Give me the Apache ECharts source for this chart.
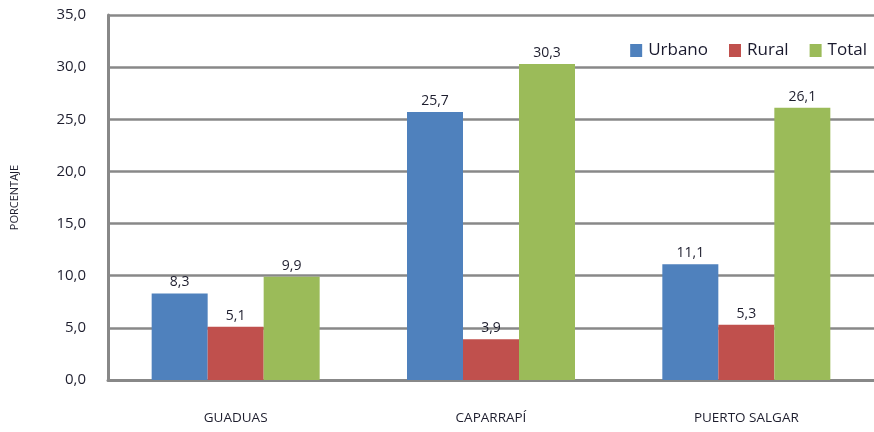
<!DOCTYPE html>
<html>
<head>
<meta charset="utf-8">
<script src="https://cdn.jsdelivr.net/npm/echarts@6/dist/echarts.min.js"></script>
<style>
  html, body { margin: 0; padding: 0; background: #fff; }
  #chart { width: 874px; height: 432px; }
</style>
</head>
<body>
<div id="chart"></div>
<script>
const categories = ['GUADUAS', 'CAPARRAPÍ', 'PUERTO SALGAR']
const urbano = [8.3, 25.7, 11.1]
const rural = [5.1, 3.9, 5.3]
const total = [9.9, 30.3, 26.1]

const fmt = v => v.toFixed(1).replace('.', ',')
const font = "'Open Sans', 'DejaVu Sans', sans-serif"

const makeSeries = (name, data, color) => ({
  name,
  type: 'bar',
  data,
  barWidth: 56,
  barGap: '0%',
  itemStyle: { color },
  label: {
    show: true,
    position: 'top',
    distance: 4,
    color: '#1e1e2e',
    fontSize: 14,
    fontFamily: font,
    formatter: p => fmt(p.value)
  }
})

const chart = echarts.init(document.getElementById('chart'))
chart.setOption({
  animation: false,
  grid: { left: 108, right: 0, top: 15, bottom: 52 },
  legend: {
    data: ['Urbano', 'Rural', 'Total'],
    right: 2,
    top: 37,
    itemWidth: 12,
    itemHeight: 13,
    itemGap: 21,
    icon: 'rect',
    textStyle: { fontSize: 17, color: '#1a1a2e', fontFamily: font, padding: [0, 0, 0, 1] }
  },
  xAxis: {
    type: 'category',
    data: categories,
    axisLine: { lineStyle: { color: '#888', width: 3 } },
    axisTick: { show: false },
    axisLabel: { fontSize: 13.5, color: '#1e1e2e', margin: 31, fontFamily: font }
  },
  yAxis: {
    type: 'value',
    min: 0,
    max: 35,
    interval: 5,
    name: 'PORCENTAJE',
    nameLocation: 'middle',
    nameGap: 88,
    nameTextStyle: { fontSize: 11, color: '#1e1e2e', fontFamily: font },
    axisLine: { show: true, lineStyle: { color: '#888', width: 3 } },
    axisTick: { show: false },
    axisLabel: { fontSize: 15, color: '#1e1e2e', margin: 22, fontFamily: font, formatter: v => fmt(v) },
    splitLine: { lineStyle: { color: '#888', width: 2.5 } }
  },
  series: [
    makeSeries('Urbano', urbano, '#4f81bd'),
    makeSeries('Rural', rural, '#c0504d'),
    makeSeries('Total', total, '#9bbb59')
  ]
})
</script>
</body>
</html>
